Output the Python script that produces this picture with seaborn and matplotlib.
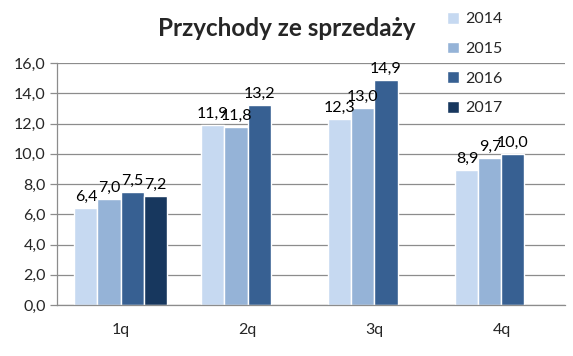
import pandas as pd
import matplotlib.pyplot as plt
import seaborn as sns
import numpy as np

# --- data ---
quarters = ["1q", "2q", "3q", "4q"]
years = ["2014", "2015", "2016", "2017"]
v2014 = [6.4, 11.9, 12.3, 8.9]
v2015 = [7.0, 11.8, 13.0, 9.7]
v2016 = [7.5, 13.2, 14.9, 10.0]
v2017 = [7.2, np.nan, np.nan, np.nan]
yticks = [0, 2, 4, 6, 8, 10, 12, 14, 16]

colors = ["#C6D9F1", "#95B3D7", "#376092", "#17375E"]

rows = []
for year, vals in zip(years, [v2014, v2015, v2016, v2017]):
    for q, v in zip(quarters, vals):
        rows.append({"kwartal": q, "rok": year, "wartosc": v})
df = pd.DataFrame(rows)

sns.set_style("white")
plt.rcParams['font.family'] = ['Lato', 'DejaVu Sans']

fig = plt.figure(figsize=(5.73, 3.56), dpi=100)
ax = fig.add_axes([0.0995, 0.143, 0.8865, 0.680])

sns.barplot(data=df, x="kwartal", y="wartosc", hue="rok", order=quarters,
            hue_order=years, palette=colors, width=0.725, saturation=1,
            ax=ax, legend=True)

# value labels with decimal comma
for cont in ax.containers:
    labels = [f"{v:.1f}".replace(".", ",") if not np.isnan(v) else ""
              for v in cont.datavalues]
    ax.bar_label(cont, labels=labels, padding=3, fontsize=11.5, color="black")

ax.set_ylim(0, 16)
ax.set_yticks(yticks)
ax.set_yticklabels([f"{t:.1f}".replace(".", ",") for t in yticks], fontsize=11.5)
ax.yaxis.grid(True, color="#8C8C8C", linewidth=0.9)
ax.set_axisbelow(True)
ax.set_xlim(-0.5, 3.5)
ax.set_xticks(range(len(quarters)))
ax.set_xticklabels(quarters, fontsize=11.5)
ax.tick_params(axis="x", length=0, pad=13)
# category separators on the x axis
ax.set_xticks([-0.5, 0.5, 1.5, 2.5, 3.5], minor=True)
ax.tick_params(axis="x", which="minor", length=5, color="#8C8C8C", width=0.9)
ax.tick_params(axis="y", length=5, color="#8C8C8C", width=0.9, pad=3, left=True)
ax.set_xlabel("")
ax.set_ylabel("")
for side in ["top", "right"]:
    ax.spines[side].set_visible(False)
for side in ["left", "bottom"]:
    ax.spines[side].set_color("#8C8C8C")
    ax.spines[side].set_linewidth(0.9)

fig.text(0.50, 0.92, "Przychody ze sprzedaży", ha="center", va="center",
         fontsize=17.5, fontweight="bold")

leg = ax.legend(title=None, loc="upper left", bbox_to_anchor=(0.74, 1.27),
                frameon=False, fontsize=11.5, handlelength=0.75, handleheight=0.75,
                labelspacing=0.95, handletextpad=0.4)

fig.savefig("out.png", dpi=100)
